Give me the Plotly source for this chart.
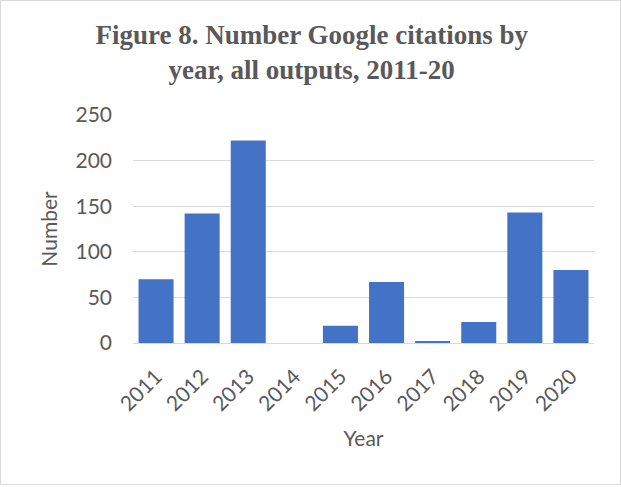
import plotly.graph_objects as go

years = ["2011", "2012", "2013", "2014", "2015", "2016", "2017", "2018", "2019", "2020"]
citations = [70, 142, 222, 0, 19, 67, 2, 23, 143, 80]
y_ticks = [0, 50, 100, 150, 200, 250]

W, H = 621, 487
ML, MR, MT, MB = 133, 27, 115, 144
pw = W - ML - MR
ph = H - MT - MB

fig = go.Figure(go.Bar(x=years, y=citations, marker=dict(color="#4472C4", line=dict(width=0))))

fig.update_layout(
    width=W, height=H,
    margin=dict(l=ML, r=MR, t=MT, b=MB),
    paper_bgcolor="white", plot_bgcolor="white",
    bargap=0.24,
    showlegend=False,
    title=dict(
        text="<b>Figure 8. Number Google citations by<br>year, all outputs, 2011-20</b>",
        x=0.502, xref="container", xanchor="center",
        y=1 - 44 / H, yref="container", yanchor="top",
        font=dict(family="Liberation Serif", size=27, color="#595959"),
    ),
    font=dict(family="Lato", color="#595959"),
    xaxis=dict(
        tickangle=-45, tickfont=dict(size=21, color="#595959"),
        ticklabelstandoff=12,
        title=dict(text="Year", font=dict(size=21, color="#595959"), standoff=16),
        showline=True, linecolor="#d9d9d9", linewidth=1, ticks="",
    ),
    yaxis=dict(
        range=[0, 250], tickvals=y_ticks,
        tickfont=dict(size=21, color="#595959"),
        ticklabelstandoff=20,
        title=dict(text="Number", font=dict(size=21, color="#595959"), standoff=12),
        showgrid=True, gridcolor="#d9d9d9", gridwidth=1,
        zeroline=False, showline=False, ticks="", ticklen=0,
    ),
    shapes=[dict(
        type="rect", xref="paper", yref="paper",
        x0=(0.5 - ML) / pw, x1=(W - 0.5 - ML) / pw,
        y0=-(MB - 2.5) / ph, y1=1 + (MT - 0.5) / ph,
        line=dict(color="#d9d9d9", width=1), fillcolor="rgba(0,0,0,0)", layer="below",
    )],
)

fig.write_html("out.html")
